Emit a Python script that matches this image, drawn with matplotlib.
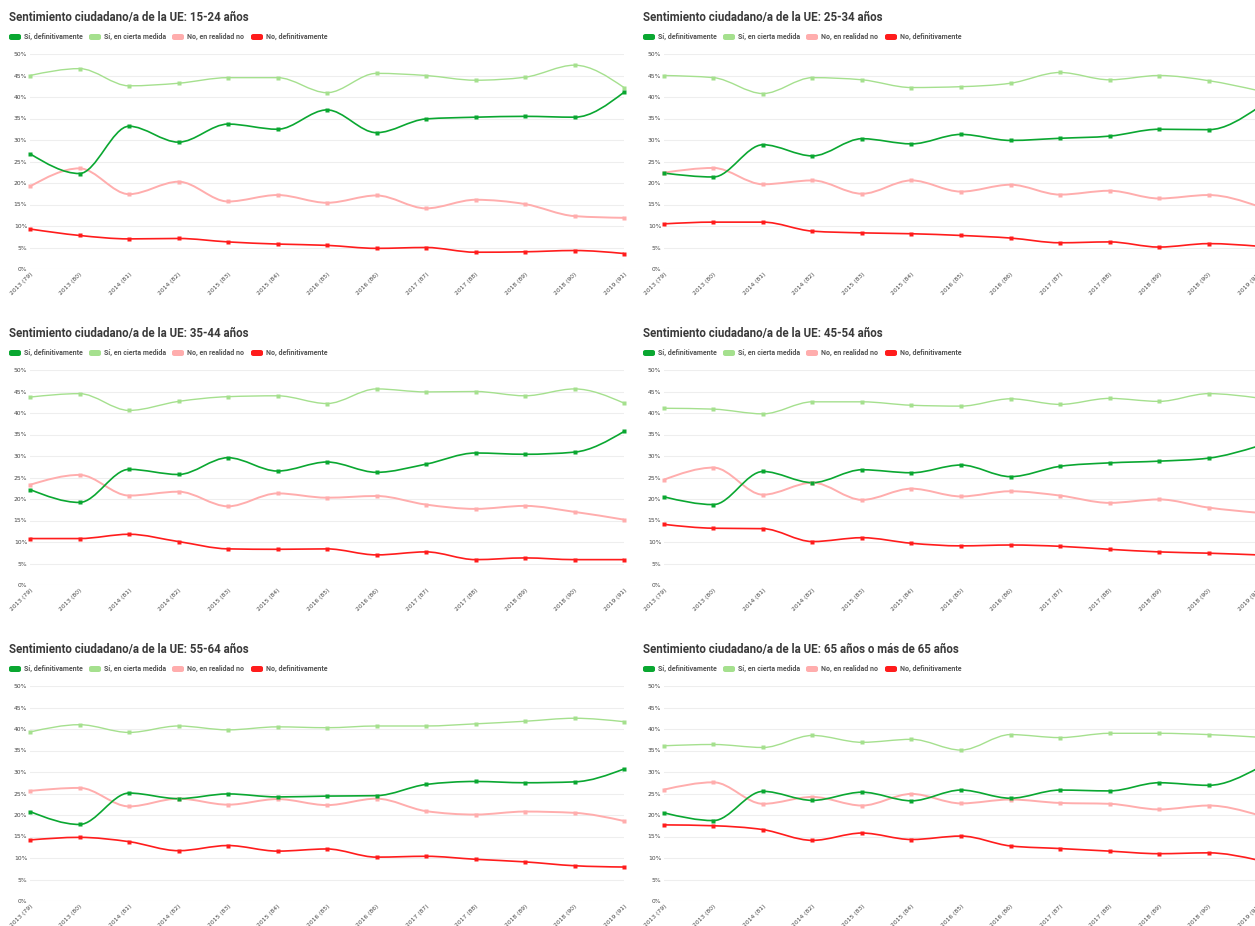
import matplotlib
matplotlib.use("Agg")
import matplotlib.pyplot as plt
from matplotlib.path import Path
from matplotlib.patches import PathPatch, FancyBboxPatch
import numpy as np

# ---------------- data ----------------
periods = ['2013 (79)', '2013 (80)', '2014 (81)', '2014 (82)', '2015 (83)', '2015 (84)',
           '2016 (85)', '2016 (86)', '2017 (87)', '2017 (88)', '2018 (89)', '2018 (90)',
           '2019 (91)']

series_names = ['Sí, definitivamente', 'Sí, en cierta medida',
                'No, en realidad no', 'No, definitivamente']

age_groups = ['15-24 años', '25-34 años', '35-44 años', '45-54 años',
              '55-64 años', '65 años o más de 65 años']

si_def = [
    [26.8, 22.2, 33.2, 29.5, 33.7, 32.5, 37.0, 31.7, 34.9, 35.3, 35.5, 35.3, 41.1],
    [22.3, 21.4, 28.9, 26.3, 30.3, 29.1, 31.3, 29.9, 30.4, 30.9, 32.5, 32.4, 37.5],
    [22.2, 19.2, 26.9, 25.7, 29.6, 26.5, 28.6, 26.2, 28.1, 30.7, 30.4, 30.9, 35.7],
    [20.5, 18.7, 26.4, 23.8, 26.8, 26.1, 27.9, 25.2, 27.6, 28.4, 28.8, 29.5, 32.3],
    [20.8, 17.8, 25.1, 23.8, 24.9, 24.2, 24.4, 24.5, 27.1, 27.8, 27.5, 27.7, 30.7],
    [20.5, 18.7, 25.5, 23.4, 25.3, 23.3, 25.8, 23.9, 25.8, 25.6, 27.5, 26.9, 30.9],
]
si_cierta = [
    [45.0, 46.6, 42.6, 43.2, 44.5, 44.5, 41.0, 45.5, 45.0, 43.9, 44.6, 47.4, 42.2],
    [45.0, 44.5, 40.8, 44.5, 44.0, 42.2, 42.4, 43.2, 45.7, 44.0, 45.0, 43.8, 41.5],
    [43.7, 44.5, 40.6, 42.7, 43.8, 44.0, 42.2, 45.6, 44.9, 45.0, 44.0, 45.6, 42.3],
    [41.1, 40.9, 39.8, 42.6, 42.6, 41.8, 41.6, 43.3, 42.0, 43.4, 42.7, 44.5, 43.5],
    [39.3, 41.0, 39.2, 40.7, 39.8, 40.5, 40.3, 40.7, 40.7, 41.2, 41.8, 42.5, 41.7],
    [36.1, 36.4, 35.7, 38.5, 36.9, 37.6, 35.1, 38.7, 38.0, 39.0, 39.0, 38.7, 38.1],
]
no_realidad = [
    [19.2, 23.4, 17.4, 20.3, 15.7, 17.2, 15.4, 17.1, 14.1, 16.1, 15.1, 12.3, 11.9],
    [22.4, 23.5, 19.7, 20.6, 17.5, 20.6, 18.0, 19.6, 17.3, 18.2, 16.4, 17.2, 14.6],
    [23.3, 25.6, 20.8, 21.7, 18.3, 21.3, 20.3, 20.7, 18.7, 17.7, 18.4, 17.0, 15.2],
    [24.5, 27.3, 21.0, 23.8, 19.8, 22.4, 20.6, 21.8, 20.8, 19.1, 19.9, 18.0, 16.8],
    [25.6, 26.3, 22.0, 23.8, 22.4, 23.7, 22.3, 23.8, 20.9, 20.1, 20.8, 20.5, 18.6],
    [25.9, 27.6, 22.6, 24.2, 22.2, 24.9, 22.7, 23.6, 22.8, 22.6, 21.3, 22.2, 20.0],
]
no_def = [
    [9.3, 7.8, 7.0, 7.1, 6.3, 5.8, 5.5, 4.8, 5.0, 3.9, 4.0, 4.3, 3.6],
    [10.5, 10.9, 10.9, 8.8, 8.4, 8.2, 7.8, 7.2, 6.1, 6.3, 5.1, 5.9, 5.3],
    [10.8, 10.8, 11.8, 10.1, 8.4, 8.3, 8.4, 7.0, 7.7, 5.9, 6.3, 5.9, 5.9],
    [14.1, 13.2, 13.1, 10.1, 11.0, 9.7, 9.1, 9.3, 9.0, 8.3, 7.7, 7.4, 7.0],
    [14.2, 14.8, 13.8, 11.7, 12.9, 11.6, 12.1, 10.2, 10.4, 9.7, 9.1, 8.2, 7.9],
    [17.7, 17.5, 16.6, 14.1, 15.8, 14.3, 15.1, 12.8, 12.2, 11.6, 11.0, 11.2, 9.5],
]

colors = ['#0aa731', '#a5e08e', '#ffadad', '#ff1c1c']
widths = [1.2, 1.0, 1.4, 1.2]

W, H = 1255, 926


# -----------------------------------------------
def smooth_path(xs, ys):
    # monotone cubic curve through the points (like d3 curveMonotoneX)
    x = np.asarray(xs, float)
    y = np.asarray(ys, float)
    n = len(x)
    h = np.diff(x)
    s = np.diff(y) / h
    t = np.zeros(n)
    for i in range(1, n - 1):
        p = (s[i - 1] * h[i] + s[i] * h[i - 1]) / (h[i - 1] + h[i])
        t[i] = (np.sign(s[i - 1]) + np.sign(s[i])) * min(abs(s[i - 1]), abs(s[i]), 0.5 * abs(p))
    t[0] = (3 * s[0] - t[1]) / 2
    t[-1] = (3 * s[-1] - t[-2]) / 2
    verts = [(x[0], y[0])]
    codes = [Path.MOVETO]
    for i in range(n - 1):
        dx = h[i] / 3
        verts += [(x[i] + dx, y[i] + dx * t[i]),
                  (x[i + 1] - dx, y[i + 1] - dx * t[i + 1]),
                  (x[i + 1], y[i + 1])]
        codes += [Path.CURVE4] * 3
    return Path(verts, codes)


# -----------------------------------------------
def draw_panel(fig, idx):
    col = idx % 2
    row = idx // 2
    x0 = 30 if col == 0 else 664
    top = 54 + row * 316
    ax = fig.add_axes([x0 / W, 1 - (top + 215) / H, 594 / W, 215 / H])

    xs = list(range(len(periods)))
    data = [si_def[idx], si_cierta[idx], no_realidad[idx], no_def[idx]]
    for k in [1, 2, 3, 0]:
        patch = PathPatch(smooth_path(xs, data[k]), facecolor='none',
                          edgecolor=colors[k], lw=widths[k], clip_on=False, zorder=3)
        ax.add_patch(patch)
        ax.plot(xs, data[k], 's', ms=2.4, color=colors[k], mec='none',
                clip_on=False, zorder=4)

    ax.set_xlim(0, len(periods) - 1)
    ax.set_ylim(0, 50)
    ax.set_yticks(range(0, 51, 5))
    ax.set_yticklabels([f'{v}%' for v in range(0, 51, 5)], fontsize=4.3, color='#444444')
    ax.set_xticks(xs)
    ax.set_xticklabels(periods, rotation=45, ha='right', va='top',
                       rotation_mode='anchor', fontsize=4.3, color='#444444')
    ax.tick_params(length=0, pad=2)
    ax.grid(axis='y', color='#eeeeee', lw=0.8)
    ax.set_axisbelow(True)
    for s in ax.spines.values():
        s.set_visible(False)

    # title and legend
    tx = 9 if col == 0 else 643
    fig.text(tx / W, 1 - (17 + row * 316) / H,
             'Sentimiento ciudadano/a de la UE: ' + age_groups[idx],
             fontsize=8.3, fontweight='bold', color='#3a3a3a',
             family=['Liberation Sans Narrow', 'Roboto'], va='center', ha='left')
    ly = 37 + row * 316
    lx = tx
    for k in range(4):
        fig.patches.append(FancyBboxPatch(((lx) / W, 1 - (ly + 3) / H), 12 / W, 6 / H,
                                          boxstyle='round,pad=0,rounding_size=0.002',
                                          transform=fig.transFigure, fc=colors[k], ec='none'))
        fig.text((lx + 15) / W, 1 - ly / H, series_names[k], fontsize=5.0,
                 fontweight='bold', color='#555555', va='center', ha='left',
                 family=['Liberation Sans Narrow', 'Roboto'])
        lx += [80, 83, 79, 80][k]
    return ax


fig = plt.figure(figsize=(W / 100, H / 100), dpi=100)
for i in range(6):
    draw_panel(fig, i)

fig.savefig('out.png', dpi=100, facecolor='white')
